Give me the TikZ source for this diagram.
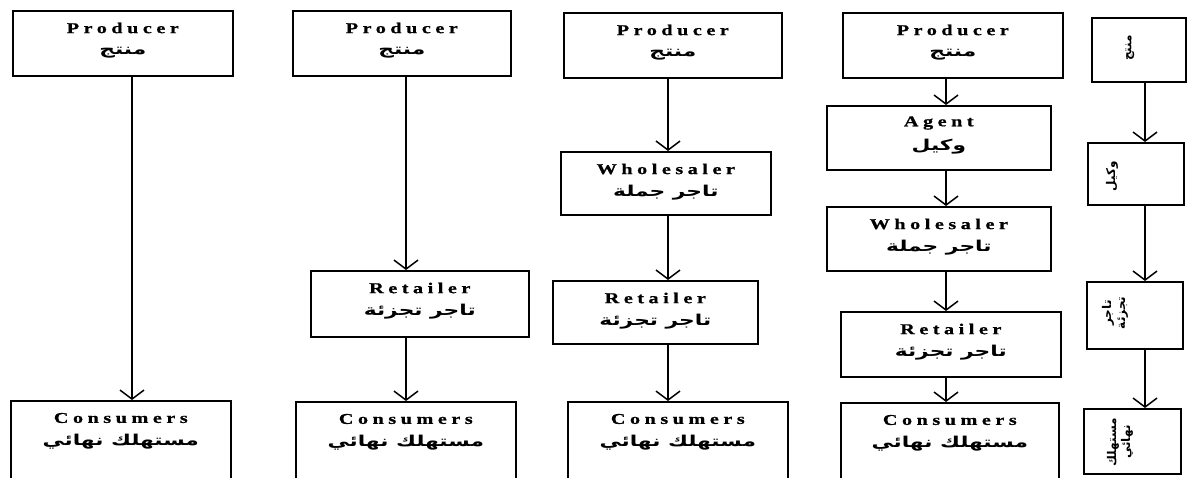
\documentclass[tikz,border=0pt]{standalone}
\usepackage{fontspec}
\setmainfont{Liberation Serif}
\newfontfamily\enfont[LetterSpace=30,FakeStretch=1.35,FakeBold=0.8]{Liberation Serif}
\newfontfamily\arfont[Script=Arabic,FakeStretch=1.45]{DejaVu Sans}
\newfontfamily\arvfont[Script=Arabic]{DejaVu Sans}
\TeXXeTstate=1
\usetikzlibrary{arrows.meta,calc}
\tikzset{
  box/.style={draw, line width=1.6pt, anchor=north west, inner sep=0pt},
  en/.style={font=\enfont\bfseries\fontsize{15}{17}\selectfont, inner sep=0pt},
  ar/.style={font=\arfont\bfseries\fontsize{15}{17}\selectfont, inner sep=0pt},
  arv/.style={font=\arvfont\bfseries\fontsize{12}{14}\selectfont, inner sep=0pt, rotate=90, align=center},
  arr/.style={line width=1.5pt, -{Straight Barb[length=9pt,width=24pt,line width=1.5pt]}}
}
\newcommand{\AR}[1]{\beginR #1\endR}
\begin{document}
\begin{tikzpicture}[x=1pt,y=-1pt]
\useasboundingbox (0,0) rectangle (1190,477);
\clip (0,0) rectangle (1190,477);
% column 1
\node[box, minimum width=220pt, minimum height=65pt] (p1) at (12,10) {};
\node[box, minimum width=220pt, minimum height=90pt] (c1) at (10,400) {};
\coordinate (x1) at (132,0);
% column 2
\node[box, minimum width=218pt, minimum height=65pt] (p2) at (292,10) {};
\node[box, minimum width=218pt, minimum height=66pt] (r2) at (310,270) {};
\node[box, minimum width=220pt, minimum height=90pt] (c2) at (295,401) {};
\coordinate (x2) at (406,0);
% column 3
\node[box, minimum width=218pt, minimum height=65pt] (p3) at (563,12) {};
\node[box, minimum width=210pt, minimum height=63pt] (w3) at (560,151) {};
\node[box, minimum width=205pt, minimum height=63pt] (r3) at (552,280) {};
\node[box, minimum width=220pt, minimum height=90pt] (c3) at (567,401) {};
\coordinate (x3) at (668,0);
% column 4
\node[box, minimum width=220pt, minimum height=65pt] (p4) at (842,12) {};
\node[box, minimum width=224pt, minimum height=64pt] (a4) at (826,105) {};
\node[box, minimum width=224pt, minimum height=64pt] (w4) at (826,206) {};
\node[box, minimum width=220pt, minimum height=65pt] (r4) at (840,311) {};
\node[box, minimum width=218pt, minimum height=90pt] (c4) at (840,402) {};
\coordinate (x4) at (946,0);
% column 5
\node[box, minimum width=94pt, minimum height=64pt] (q1) at (1091,17) {};
\node[box, minimum width=96pt, minimum height=62pt] (q2) at (1087,142) {};
\node[box, minimum width=96pt, minimum height=67pt] (q3) at (1086,281) {};
\node[box, minimum width=97pt, minimum height=65pt] (q4) at (1083,408) {};
\coordinate (x5) at (1145,0);

% texts
\foreach \n in {p1,p2,p3,p4}{
  \node[en] at ($(\n.north)+(0,18)$) {Producer};
  \node[ar] at ($(\n.north)+(0,43)$) {\AR{منتج}};
}
\foreach \n in {c1,c2,c3,c4}{
  \node[en] at ($(\n.north)+(0,18)$) {Consumers};
  \node[ar] at ($(\n.north)+(0,42)$) {\AR{مستهلك نهائي}};
}
\foreach \n in {r2,r3,r4}{
  \node[en] at ($(\n.north)+(0,18)$) {Retailer};
  \node[ar] at ($(\n.north)+(0,42)$) {\AR{تاجر تجزئة}};
}
\foreach \n in {w3,w4}{
  \node[en] at ($(\n.north)+(0,18)$) {Wholesaler};
  \node[ar] at ($(\n.north)+(0,42)$) {\AR{تاجر جملة}};
}
\node[en] at ($(a4.north)+(0,18)$) {Agent};
\node[ar] at ($(a4.north)+(0,42)$) {\AR{وكيل}};

\node[arv] at (1130,48) {\AR{منتج}};
\node[arv] at (1112,176) {\AR{وكيل}};
\node[arv] at (1115,313) {\AR{تاجر}\\\AR{تجزئة}};
\node[arv] at (1120,442) {\AR{مستهلك}\\\AR{نهائي}};

% arrows
\draw[arr] (p1.south -| x1) -- (c1.north -| x1);
\draw[arr] (p2.south -| x2) -- (r2.north -| x2);
\draw[arr] (r2.south -| x2) -- (c2.north -| x2);
\draw[arr] (p3.south -| x3) -- (w3.north -| x3);
\draw[arr] (w3.south -| x3) -- (r3.north -| x3);
\draw[arr] (r3.south -| x3) -- (c3.north -| x3);
\draw[arr] (p4.south -| x4) -- (a4.north -| x4);
\draw[arr] (a4.south -| x4) -- (w4.north -| x4);
\draw[arr] (w4.south -| x4) -- (r4.north -| x4);
\draw[arr] (r4.south -| x4) -- (c4.north -| x4);
\draw[arr] (q1.south -| x5) -- (q2.north -| x5);
\draw[arr] (q2.south -| x5) -- (q3.north -| x5);
\draw[arr] (q3.south -| x5) -- (q4.north -| x5);
\end{tikzpicture}
\end{document}
